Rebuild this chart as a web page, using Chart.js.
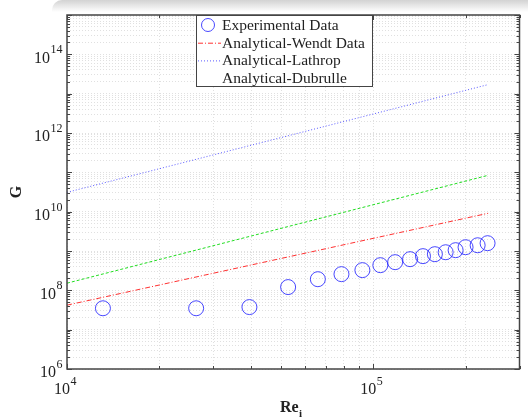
<!DOCTYPE html>
<html>
<head>
<meta charset="utf-8">
<script src="https://cdn.jsdelivr.net/npm/chart.js@4/dist/chart.umd.min.js"></script>
<style>
  html, body { margin: 0; padding: 0; background: #fff; }
  #wrap { position: relative; width: 528px; height: 418px; }
  #shade { position: absolute; left: 52px; top: 0; width: 476px; height: 12px;
           background: linear-gradient(#d2d2d2, rgba(255,255,255,0)); border-top-left-radius: 10px;
           pointer-events: none; }
</style>
</head>
<body>
<div id="wrap">
  <canvas id="chartCanvas" width="528" height="418"></canvas>
  <div id="shade"></div>
</div>
<script>
// ===== data =====
const seriesNames = ['Experimental Data', 'Analytical-Wendt Data', 'Analytical-Lathrop', 'Analytical-Dubrulle'];

const expRe = [1.31e4, 2.64e4, 3.94e4, 5.27e4, 6.59e4, 7.87e4, 9.21e4, 1.054e5, 1.178e5,
               1.318e5, 1.452e5, 1.588e5, 1.722e5, 1.856e5, 2.0e5, 2.19e5, 2.36e5];
const expG  = [3.5e7, 3.5e7, 3.75e7, 1.21e8, 1.92e8, 2.58e8, 3.26e8, 4.36e8, 5.2e8,
               6.2e8, 7.4e8, 8.3e8, 9.3e8, 1.05e9, 1.25e9, 1.40e9, 1.58e9];

const lineRe    = [1e4, 2.37e5];
const wendtG    = [4.2e7, 9.1e9];
const lathropG  = [3.1e10, 1.7e13];
const dubrulleG = [1.52e8, 8.4e10];

const xLabelExp = [4, 5];
const yLabelExp = [6, 8, 10, 12, 14];

const xMin = 1e4, xMax = 3e5;
const yMin = 1e6, yMax = 1e15;

// ===== helpers =====
function toPoints(xs, ys) {
    return xs.map((v, i) => ({ x: v, y: ys[i] }));
}

function logTicks(min, max) {
    const out = [];
    for (let e = Math.floor(Math.log10(min)); e <= Math.ceil(Math.log10(max)); e++) {
        for (let k = 1; k <= 9; k++) {
            const v = k * Math.pow(10, e);
            if (v >= min * 0.999 && v <= max * 1.001) out.push({ value: v });
        }
    }
    return out;
}

const serif = '"Liberation Serif", "DejaVu Serif", serif';

function drawPow(ctx, exp, x, y, align) {
    // "10" with a raised exponent; x is the anchor, y the middle of "10"
    ctx.font = '16px ' + serif;
    const wBase = ctx.measureText('10').width;
    ctx.font = '12px ' + serif;
    const wExp = ctx.measureText(String(exp)).width;
    let left = align === 'right' ? x - wBase - wExp : x;
    ctx.textAlign = 'left';
    ctx.textBaseline = 'middle';
    ctx.fillStyle = '#222';
    ctx.font = '16px ' + serif;
    ctx.fillText('10', left, y);
    ctx.font = '12px ' + serif;
    ctx.fillText(String(exp), left + wBase + 0.5, y - 8);
}

// ===== axes frame, tick marks, labels, legend =====
const decoPlugin = {
    id: 'deco',
    afterDraw(chart) {
        const ctx = chart.ctx;
        const a = chart.chartArea;
        const xs = chart.scales.x, ys = chart.scales.y;
        ctx.save();

        // small inward tick marks
        ctx.strokeStyle = '#444';
        ctx.lineWidth = 1;
        ys.ticks.forEach(t => {
            const py = Math.round(ys.getPixelForValue(t.value)) + 0.5;
            const major = Math.abs(Math.log10(t.value) % 1) < 1e-6;
            const len = major ? 5 : 3;
            ctx.beginPath();
            ctx.moveTo(a.left, py); ctx.lineTo(a.left + len, py);
            ctx.moveTo(a.right, py); ctx.lineTo(a.right - len, py);
            ctx.stroke();
        });
        xs.ticks.forEach(t => {
            const px = Math.round(xs.getPixelForValue(t.value)) + 0.5;
            const major = Math.abs(Math.log10(t.value) % 1) < 1e-6;
            const len = major ? 5 : 3;
            ctx.beginPath();
            ctx.moveTo(px, a.bottom); ctx.lineTo(px, a.bottom - len);
            ctx.moveTo(px, a.top); ctx.lineTo(px, a.top + len);
            ctx.stroke();
        });

        // box
        ctx.strokeStyle = '#444';
        ctx.lineWidth = 1.5;
        ctx.strokeRect(a.left, a.top, a.right - a.left, a.bottom - a.top);

        // tick labels
        yLabelExp.forEach(e => {
            const py = ys.getPixelForValue(Math.pow(10, e));
            drawPow(ctx, e, a.left - 5, py + 4, 'right');
        });
        xLabelExp.forEach(e => {
            const px = xs.getPixelForValue(Math.pow(10, e));
            drawPow(ctx, e, px - 13, a.bottom + 21, 'left');
        });

        // axis titles
        ctx.fillStyle = '#222';
        ctx.font = 'bold 16px ' + serif;
        ctx.save();
        ctx.translate(17, (a.top + a.bottom) / 2);
        ctx.rotate(-Math.PI / 2);
        ctx.textAlign = 'center';
        ctx.textBaseline = 'middle';
        ctx.fillText('G', 0, 0);
        ctx.restore();

        const cx = (a.left + a.right) / 2 - 4;
        ctx.textAlign = 'left';
        ctx.textBaseline = 'middle';
        ctx.font = 'bold 16px ' + serif;
        const wRe = ctx.measureText('Re').width;
        ctx.fillText('Re', cx - wRe / 2, 408);
        ctx.font = 'bold 11px ' + serif;
        ctx.fillText('i', cx + wRe / 2 + 0.5, 414);

        // legend
        const lx = 196, ly = a.top, lw = 176, lh = 71;
        ctx.fillStyle = '#fff';
        ctx.fillRect(lx, ly, lw, lh);
        ctx.strokeStyle = '#444';
        ctx.lineWidth = 1;
        ctx.strokeRect(lx + 0.5, ly + 0.5, lw, lh);
        chart.data.datasets.forEach((ds, i) => {
            const rowY = ly + 10 + i * 17.7;
            if (i === 0) {
                ctx.beginPath();
                ctx.strokeStyle = ds.borderColor;
                ctx.lineWidth = 1;
                ctx.arc(lx + 12, rowY, 6.5, 0, Math.PI * 2);
                ctx.stroke();
            } else if (ds.legendLine) {
                ctx.beginPath();
                ctx.strokeStyle = ds.borderColor;
                ctx.lineWidth = 1;
                ctx.setLineDash(ds.borderDash || []);
                ctx.moveTo(lx + 2, rowY + 0.5);
                ctx.lineTo(lx + 25, rowY + 0.5);
                ctx.stroke();
                ctx.setLineDash([]);
            }
            ctx.fillStyle = '#222';
            ctx.font = '15.5px ' + serif;
            ctx.textAlign = 'left';
            ctx.textBaseline = 'middle';
            ctx.fillText(ds.label, lx + 26, rowY + 1);
        });

        ctx.restore();
    }
};

const ctx = document.getElementById('chartCanvas').getContext('2d');
new Chart(ctx, {
    type: 'scatter',
    data: {
        datasets: [
            {
                label: seriesNames[0],
                data: toPoints(expRe, expG),
                showLine: false,
                pointStyle: 'circle',
                pointRadius: 7.5,
                pointBorderWidth: 1,
                borderColor: 'rgba(40,40,255,0.85)',
                backgroundColor: 'rgba(0,0,0,0)'
            },
            {
                label: seriesNames[1],
                data: toPoints(lineRe, wendtG),
                showLine: true,
                pointRadius: 0,
                borderWidth: 1,
                borderColor: '#ff3030',
                borderDash: [5, 2, 1, 2],
                legendLine: true
            },
            {
                label: seriesNames[2],
                data: toPoints(lineRe, lathropG),
                showLine: true,
                pointRadius: 0,
                borderWidth: 1,
                borderColor: '#5a5aff',
                borderDash: [1, 2],
                legendLine: true
            },
            {
                label: seriesNames[3],
                data: toPoints(lineRe, dubrulleG),
                showLine: true,
                pointRadius: 0,
                borderWidth: 1,
                borderColor: '#22dd22',
                borderDash: [3, 2],
                legendLine: false
            }
        ]
    },
    options: {
        responsive: false,
        animation: false,
        layout: { padding: { top: 15, right: 6, left: 0, bottom: 0 } },
        plugins: { legend: { display: false }, tooltip: { enabled: false } },
        scales: {
            x: {
                type: 'logarithmic',
                min: xMin, max: xMax,
                afterBuildTicks: s => { s.ticks = logTicks(xMin, xMax); },
                afterFit: s => { s.height = 49; },
                ticks: { display: false },
                grid: { color: '#e0e0e0', lineWidth: 1, drawTicks: false },
                border: { display: false, dash: [1, 2] }
            },
            y: {
                type: 'logarithmic',
                min: yMin, max: yMax,
                afterBuildTicks: s => { s.ticks = logTicks(yMin, yMax); },
                afterFit: s => { s.width = 67; },
                ticks: { display: false },
                grid: { color: '#e0e0e0', lineWidth: 1, drawTicks: false },
                border: { display: false, dash: [1, 2] }
            }
        }
    },
    plugins: [decoPlugin]
});
</script>
</body>
</html>
